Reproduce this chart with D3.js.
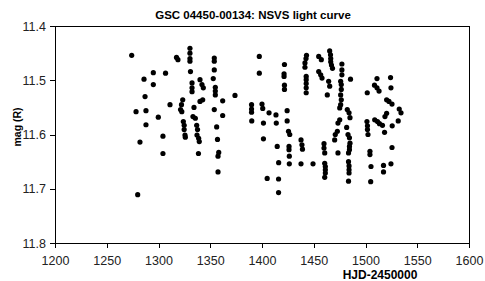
<!DOCTYPE html>
<html lang="en">
<head>
<meta charset="utf-8">
<title>NSVS light curve</title>
<script src="https://d3js.org/d3.v7.min.js"></script>
<style>
  body { margin: 0; background: #fff; }
  svg { display: block; font-family: "Liberation Sans", Arial, sans-serif; }
  .axis text { font-size: 12.5px; fill: #222; }
  .axis line, .axis path { stroke: #000; shape-rendering: crispEdges; }
  .lbl { font-weight: bold; fill: #000; }
</style>
</head>
<body>
<div id="vis"></div>
<script>
// heliocentric JD - 2450000
var hjd = [
  1274.1, 1295.0, 1306.8, 1286.0, 1295.0, 1287.0, 1311.1, 1278.3, 1287.9, 1299.8,
  1287.9, 1304.3, 1282.1, 1304.3, 1279.9, 1317.4, 1318.8, 1330.4, 1330.4, 1330.4,
  1330.4, 1330.9, 1332.4, 1332.4, 1332.4, 1340.1, 1342.0, 1343.3, 1342.7, 1340.1,
  1323.4, 1322.2, 1321.3, 1322.5, 1334.3, 1333.3, 1335.6, 1324.0, 1324.8, 1324.8,
  1325.6, 1325.9, 1336.9, 1337.7, 1337.2, 1338.8, 1339.4, 1338.6, 1353.9, 1353.9,
  1353.9, 1352.9, 1354.9, 1354.9, 1354.9, 1362.0, 1353.9, 1362.0, 1356.2, 1357.0,
  1358.2, 1357.5, 1357.5, 1373.9, 1397.4, 1397.4, 1389.9, 1389.9, 1389.9, 1390.1,
  1400.0, 1400.7, 1406.8, 1413.5, 1401.4, 1413.8, 1401.4, 1414.7, 1416.1, 1405.0,
  1416.0, 1416.0, 1421.7, 1421.3, 1421.3, 1421.7, 1421.7, 1424.3, 1424.3, 1425.6,
  1426.8, 1426.1, 1426.1, 1426.4, 1426.4, 1437.7, 1438.6, 1439.1, 1437.7, 1449.3,
  1443.0, 1442.5, 1441.5, 1441.5, 1442.7, 1442.7, 1442.7, 1442.7, 1442.7, 1454.8,
  1457.3, 1454.8, 1456.7, 1458.0, 1459.9, 1459.9, 1460.6, 1460.6, 1461.2, 1461.2,
  1461.2, 1460.6, 1465.4, 1466.2, 1466.4, 1466.4, 1467.1, 1468.1, 1464.4, 1465.4,
  1463.1, 1477.2, 1477.2, 1477.2, 1485.5, 1476.0, 1476.6, 1476.6, 1476.0, 1476.6,
  1476.0, 1475.1, 1475.1, 1473.4, 1472.8, 1470.8, 1470.2, 1473.4, 1482.4, 1484.1,
  1485.0, 1481.8, 1483.1, 1484.5, 1485.0, 1484.5, 1484.5, 1483.6, 1483.6, 1484.1,
  1484.1, 1484.1, 1483.6, 1501.7, 1508.7, 1511.1, 1513.1, 1511.1, 1524.2, 1524.6,
  1520.4, 1522.7, 1525.6, 1532.6, 1534.3, 1520.4, 1518.8, 1501.4, 1501.9, 1501.9,
  1502.4, 1508.9, 1511.6, 1513.5, 1516.4, 1518.4, 1525.8, 1531.6, 1504.3, 1504.3,
  1525.6, 1505.3, 1517.4, 1517.4, 1524.6, 1505.0
];
// R magnitude
var mag = [
  11.454, 11.486, 11.487, 11.498, 11.508, 11.530, 11.545, 11.558, 11.556, 11.568,
  11.582, 11.603, 11.614, 11.635, 11.711, 11.458, 11.462, 11.441, 11.450, 11.460,
  11.465, 11.484, 11.505, 11.514, 11.521, 11.499, 11.508, 11.514, 11.536, 11.539,
  11.536, 11.545, 11.554, 11.558, 11.550, 11.567, 11.570, 11.576, 11.583, 11.591,
  11.601, 11.605, 11.583, 11.591, 11.601, 11.607, 11.613, 11.635, 11.459, 11.465,
  11.481, 11.497, 11.513, 11.520, 11.527, 11.538, 11.554, 11.565, 11.586, 11.609,
  11.633, 11.640, 11.669, 11.528, 11.456, 11.487, 11.545, 11.553, 11.559, 11.575,
  11.544, 11.552, 11.560, 11.564, 11.579, 11.579, 11.608, 11.622, 11.652, 11.681,
  11.682, 11.707, 11.471, 11.488, 11.493, 11.509, 11.517, 11.556, 11.575, 11.594,
  11.600, 11.622, 11.628, 11.640, 11.654, 11.610, 11.619, 11.627, 11.654, 11.654,
  11.454, 11.460, 11.468, 11.476, 11.493, 11.499, 11.506, 11.514, 11.523, 11.456,
  11.462, 11.484, 11.490, 11.496, 11.617, 11.625, 11.634, 11.653, 11.659, 11.665,
  11.671, 11.679, 11.446, 11.453, 11.460, 11.466, 11.472, 11.478, 11.502, 11.511,
  11.527, 11.470, 11.481, 11.490, 11.498, 11.502, 11.508, 11.517, 11.527, 11.536,
  11.545, 11.551, 11.573, 11.579, 11.594, 11.600, 11.610, 11.634, 11.554, 11.560,
  11.569, 11.587, 11.600, 11.606, 11.616, 11.622, 11.628, 11.634, 11.650, 11.658,
  11.665, 11.671, 11.686, 11.523, 11.509, 11.514, 11.520, 11.497, 11.495, 11.514,
  11.536, 11.539, 11.544, 11.553, 11.560, 11.561, 11.567, 11.576, 11.584, 11.591,
  11.600, 11.573, 11.576, 11.580, 11.583, 11.596, 11.584, 11.575, 11.631, 11.637,
  11.624, 11.659, 11.657, 11.669, 11.654, 11.687
];

var xTicks = [1200, 1250, 1300, 1350, 1400, 1450, 1500, 1550, 1600];
var yTicks = [11.4, 11.5, 11.6, 11.7, 11.8];

var title = "GSC 04450-00134: NSVS light curve";
var xTitle = "HJD-2450000";
var yTitle = "mag (R)";

var width = 485, height = 281;
var margin = { left: 55, right: 16, top: 26, bottom: 38 };
var w = width - margin.left - margin.right;
var h = height - margin.top - margin.bottom;

var svg = d3.select("#vis").append("svg")
  .attr("width", width)
  .attr("height", height);

var x = d3.scaleLinear().domain([1200, 1600]).range([0, w]);
var y = d3.scaleLinear().domain([11.4, 11.8]).range([0, h]);   // magnitudes grow downward

var g = svg.append("g")
  .attr("transform", "translate(" + margin.left + "," + margin.top + ")");

// plot frame
g.append("rect")
  .attr("x", 0).attr("y", 0)
  .attr("width", w).attr("height", h)
  .attr("fill", "none")
  .attr("stroke", "#000")
  .attr("shape-rendering", "crispEdges");

g.append("g")
  .attr("class", "axis")
  .attr("transform", "translate(0," + h + ")")
  .call(d3.axisBottom(x).tickValues(xTicks).tickFormat(d3.format("d"))
    .tickSize(5).tickSizeOuter(0).tickPadding(8));

g.append("g")
  .attr("class", "axis")
  .call(d3.axisLeft(y).tickValues(yTicks).tickFormat(d3.format(".1f"))
    .tickSize(5).tickSizeOuter(0).tickPadding(4));

var pts = hjd.map(function(d, i) { return { t: d, m: mag[i] }; });

g.selectAll("circle.pt")
  .data(pts)
  .enter().append("circle")
  .attr("class", "pt")
  .attr("cx", function(d) { return x(d.t); })
  .attr("cy", function(d) { return y(d.m); })
  .attr("r", 2.6)
  .attr("fill", "#000");

svg.append("text")
  .attr("class", "lbl")
  .attr("x", 253).attr("y", 19)
  .attr("text-anchor", "middle")
  .style("font-size", "11.5px")
  .text(title);

svg.append("text")
  .attr("class", "lbl")
  .attr("x", 380).attr("y", 279)
  .attr("text-anchor", "middle")
  .style("font-size", "12px")
  .text(xTitle);

svg.append("text")
  .attr("class", "lbl")
  .attr("transform", "translate(21,127) rotate(-90)")
  .attr("text-anchor", "middle")
  .style("font-size", "10.5px")
  .text(yTitle);
</script>
</body>
</html>
